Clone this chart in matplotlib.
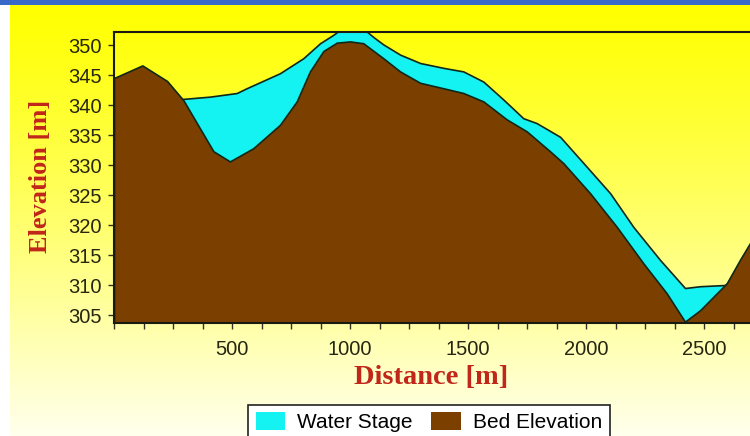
import numpy as np
import matplotlib
matplotlib.use("Agg")
import matplotlib.pyplot as plt
from matplotlib.patches import Patch, Rectangle
from matplotlib.ticker import MultipleLocator

# ---- data ----
bed_x = [0, 120, 225, 294, 421, 491, 590, 703, 774, 830, 887, 944, 1000, 1056,
         1141, 1212, 1297, 1395, 1480, 1565, 1664, 1749, 1847, 1904, 2017, 2130,
         2243, 2342, 2419, 2483, 2596, 2652, 2710]
bed_y = [344.5, 346.6, 344.0, 340.8, 332.3, 330.6, 332.8, 336.7, 340.6, 345.6,
         349.0, 350.4, 350.6, 350.3, 347.8, 345.6, 343.7, 342.8, 342.0, 340.6,
         337.6, 335.6, 332.3, 330.3, 325.3, 319.7, 313.6, 308.6, 303.9, 305.8,
         310.3, 314.2, 318.0]
water_x = [287, 407, 520, 562, 703, 802, 873, 929, 960, 1060, 1100, 1141, 1212,
           1297, 1395, 1480, 1565, 1650, 1734, 1790, 1890, 2003, 2102, 2200,
           2313, 2419, 2483, 2589, 2600]
water_y = [341.0, 341.4, 342.0, 342.8, 345.3, 347.8, 350.3, 351.7, 352.6, 352.6,
           351.3, 350.1, 348.4, 347.0, 346.2, 345.6, 343.9, 340.9, 337.8, 337.0,
           334.7, 329.7, 325.3, 319.7, 314.2, 309.5, 309.8, 310.0, 310.3]
x_ticks = [500, 1000, 1500, 2000, 2500]
y_ticks = [305, 310, 315, 320, 325, 330, 335, 340, 345, 350]
series_names = ["Water Stage", "Bed Elevation"]

W, H = 750, 436
fig = plt.figure(figsize=(W / 100, H / 100), dpi=100, facecolor="white")

# background (screenshot-like gradient)
bg = fig.add_axes([0, 0, 1, 1], zorder=-10)
bg.set_xlim(0, W)
bg.set_ylim(H, 0)
bg.axis("off")
t = np.linspace(0, 1, 256)[:, None]
grad = np.zeros((256, 1, 3))
grad[..., 0] = 1.0
grad[..., 1] = 1.0
grad[..., 2] = 0.93 * t ** 1.15
bg.imshow(grad, extent=[10, W, H, 5], aspect="auto", interpolation="bilinear")
bg.add_patch(Rectangle((0, 0), W, 5, color="#3868c8", lw=0))

ax = fig.add_axes([114 / W, 1 - 323 / H, (752 - 114) / W, (323 - 32) / H])
ax.set_facecolor("none")
ax.set_xlim(0, 2703)
ax.set_ylim(303.67, 352.17)

edge = "#10281a"
ax.fill_between(water_x, 300, water_y, facecolor="#14f2f2", edgecolor=edge,
                linewidth=1.2, zorder=2)
ax.fill_between(bed_x, 300, bed_y, facecolor="#7b3f00", edgecolor=edge,
                linewidth=1.2, zorder=3)

for s in ax.spines.values():
    s.set_color("#1a1a10")
    s.set_linewidth(1.5)
    s.set_zorder(5)
ax.spines["right"].set_visible(False)

ax.set_xticks(x_ticks)
ax.xaxis.set_minor_locator(MultipleLocator(125))
ax.set_yticks(y_ticks)
tick_font = dict(family="Liberation Sans", size=14.5)
ax.set_xticklabels([str(v) for v in x_ticks], fontdict=tick_font, color="#262612")
ax.set_yticklabels([str(v) for v in y_ticks], fontdict=tick_font, color="#262612")
ax.tick_params(axis="both", which="both", length=4, width=1, color="#333322",
               direction="out")
ax.tick_params(axis="x", which="major", pad=8)
ax.tick_params(axis="y", which="major", pad=5)

fig.text(431 / W, 1 - 377 / H, "Distance [m]", ha="center", va="center",
         family="Liberation Serif", weight="bold", size=20.5, color="#c0261a")
fig.text(41 / W, 1 - 176 / H, "Elevation [m]", ha="center", va="center",
         rotation=90, family="Liberation Serif", weight="bold", size=19,
         color="#c0261a")

handles = [Patch(facecolor="#14f2f2", edgecolor="none"),
           Patch(facecolor="#7b3f00", edgecolor="none")]
leg = fig.legend(handles, series_names, loc="upper center",
                 bbox_to_anchor=(429 / W, 1 - 405 / H), ncol=2, frameon=True,
                 fancybox=False, edgecolor="#222222", facecolor="white",
                 framealpha=1, prop=dict(family="Liberation Sans", size=15),
                 handlelength=1.4, handleheight=0.9, columnspacing=0.9,
                 handletextpad=0.6, borderpad=0.35, borderaxespad=0)
leg.get_frame().set_linewidth(1.2)

fig.savefig("out.png", dpi=100, facecolor="white")
